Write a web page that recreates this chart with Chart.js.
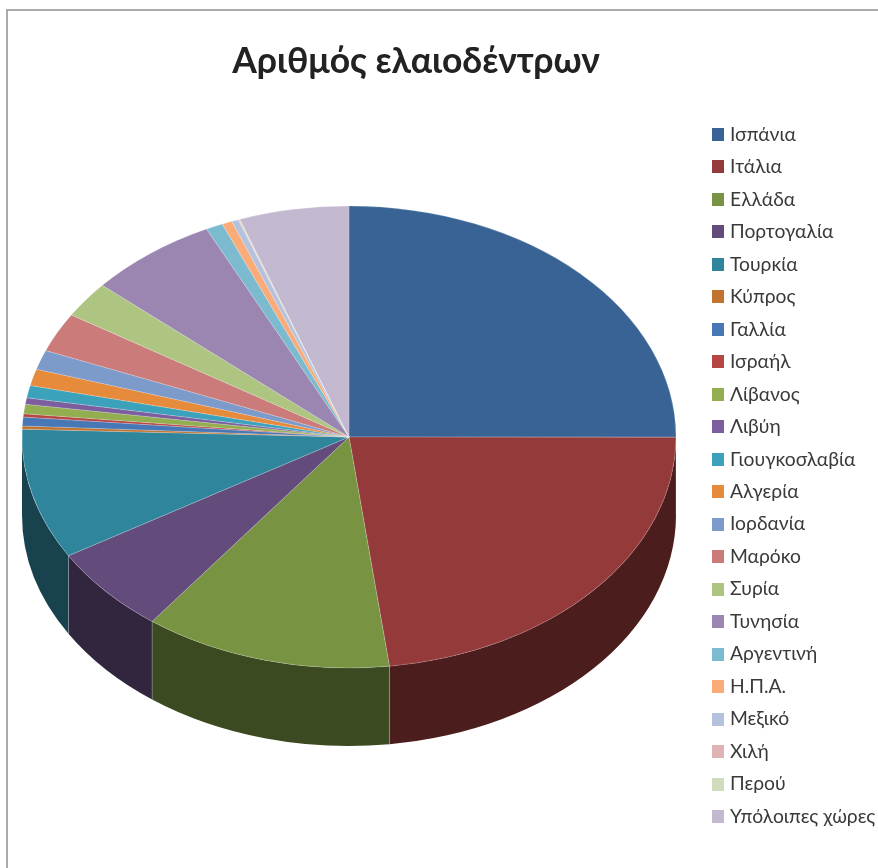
<!DOCTYPE html>
<html>
<head>
<meta charset="utf-8">
<title>Αριθμός ελαιοδέντρων</title>
<style>
  html, body { margin: 0; background: #fff; overflow: hidden; }
  #frame { position: absolute; left: 6px; top: 9px; width: 880px; height: 870px; border-left: 2px solid #aaa; border-top: 2px solid #aaa; }
  #chart { position: absolute; left: 0; top: 0; }
</style>
<script src="https://cdn.jsdelivr.net/npm/chart.js@4"></script>
</head>
<body>
<div id="frame"></div>
<canvas id="chart" width="878" height="868"></canvas>
<script>
const countries = ['Ισπάνια', 'Ιτάλια', 'Ελλάδα', 'Πορτογαλία', 'Τουρκία', 'Κύπρος', 'Γαλλία', 'Ισραήλ', 'Λίβανος', 'Λιβύη', 'Γιουγκοσλαβία', 'Αλγερία', 'Ιορδανία', 'Μαρόκο', 'Συρία', 'Τυνησία', 'Αργεντινή', 'Η.Π.Α.', 'Μεξικό', 'Χιλή', 'Περού', 'Υπόλοιπες χώρες'];
// olive trees per country, millions
const trees = [200, 184, 98, 49, 73, 1.8, 4.9, 1.8, 5.3, 3.6, 6.9, 9.3, 10.9, 22, 20.3, 51.4, 6.7, 4, 2.7, 0.33, 0.33, 43.3];
const colors = ['#386394', '#953A3A', '#789342', '#634C7C', '#2F859C', '#C0742F', '#4877B6', '#B64643', '#93AE50', '#7C5E9E', '#3CA2BB', '#E68A3C', '#7C9ACA', '#CB7B7A', '#AEC582', '#9A86B0', '#7CBACF', '#F9AB78', '#B5C2DE', '#DFB3B3', '#CFDDBC', '#C2B8CF'];

// tilted pie: ellipse centre, radii and wall height
const CX = 349, CY = 437, RX = 327, RY = 231, DEPTH = 78;
const FONT = 'Lato, "Noto Sans", sans-serif';
const LEGEND_SIZE = 19.3, LEGEND_ROW = 32.48;
const BOX_SLOT = 24 - LEGEND_SIZE;
const LEGEND_PAD = LEGEND_ROW - LEGEND_SIZE;

function darker(hex) {
  const n = parseInt(hex.slice(1), 16);
  return 'rgb(' + (n >> 16) * 0.5 + ',' + ((n >> 8) & 255) * 0.5 + ',' + (n & 255) * 0.5 + ')';
}

// legend squares are 12x13, narrower gap to the text than the default box
const swatches = colors.map(c => {
  const s = document.createElement('canvas');
  s.width = 12; s.height = 13;
  const g = s.getContext('2d');
  g.fillStyle = c;
  g.fillRect(0, 0, 12, 13);
  return s;
});

const tiltedPie = {
  id: 'tiltedPie',
  afterLayout(chart) {
    // title is centred over the plot plus legend, legend sits at a fixed column
    chart.titleBlock.left = 0;
    chart.titleBlock.right = 832;
    chart.legend.left = 718 - BOX_SLOT / 2 - LEGEND_PAD;
    chart.legend.top = 134.5 - LEGEND_SIZE / 2 - LEGEND_PAD;
    chart.legend.bottom = 868;
  },
  beforeDatasetsDraw(chart) {
    const ctx = chart.ctx;
    const arcs = chart.getDatasetMeta(0).data;
    // side walls, only the front half of the rim shows
    arcs.forEach((arc, i) => {
      const a0 = Math.max(arc.startAngle, 0), a1 = Math.min(arc.endAngle, Math.PI);
      if (a1 <= a0) return;
      ctx.beginPath();
      ctx.ellipse(CX, CY + DEPTH, RX, RY, 0, a0, a1);
      ctx.ellipse(CX, CY, RX, RY, 0, a1, a0, true);
      ctx.closePath();
      ctx.fillStyle = darker(colors[i]);
      ctx.fill();
      ctx.beginPath();
      ctx.moveTo(CX + RX * Math.cos(a0), CY + RY * Math.sin(a0));
      ctx.lineTo(CX + RX * Math.cos(a0), CY + DEPTH + RY * Math.sin(a0));
      ctx.strokeStyle = 'rgba(255,255,255,0.3)';
      ctx.lineWidth = 0.8;
      ctx.stroke();
    });
    // top face: squash the library's arcs into the ellipse
    const r = arcs[0].outerRadius;
    ctx.save();
    ctx.translate(CX, CY);
    ctx.scale(RX / r, RY / r);
    ctx.translate(-arcs[0].x, -arcs[0].y);
  },
  afterDatasetsDraw(chart) {
    chart.ctx.restore();
  }
};

new Chart(document.getElementById('chart'), {
  type: 'pie',
  data: {
    labels: countries,
    datasets: [{
      data: trees,
      backgroundColor: colors,
      borderColor: 'rgba(255,255,255,0.35)',
      borderWidth: 0.7,
      clip: false
    }]
  },
  options: {
    responsive: false,
    animation: false,
    plugins: {
      title: {
        display: true,
        text: 'Αριθμός ελαιοδέντρων',
        color: '#222',
        font: { family: FONT, size: 35.5, weight: 'bold' },
        padding: { top: 40, bottom: 10 }
      },
      legend: {
        position: 'right',
        align: 'start',
        labels: {
          usePointStyle: true,
          pointStyleWidth: BOX_SLOT,
          padding: LEGEND_PAD,
          color: '#3a3a3a',
          font: { family: FONT, size: LEGEND_SIZE },
          generateLabels(chart) {
            return Chart.overrides.doughnut.plugins.legend.labels.generateLabels(chart)
              .map(item => Object.assign(item, { pointStyle: swatches[item.index] }));
          }
        }
      },
      tooltip: { enabled: false }
    }
  },
  plugins: [tiltedPie]
});
</script>
</body>
</html>
